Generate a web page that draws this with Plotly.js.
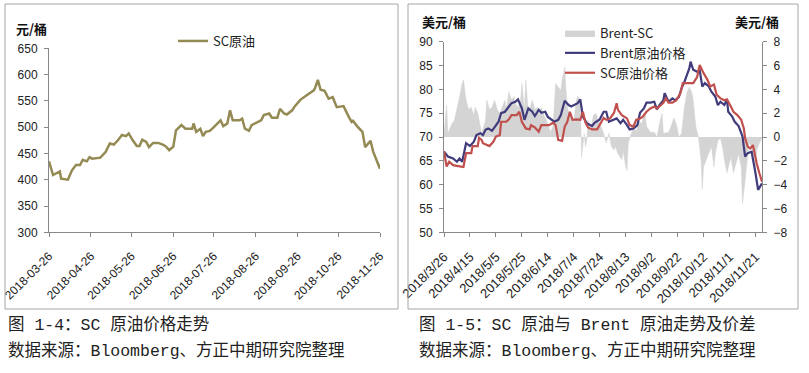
<!DOCTYPE html>
<html>
<head>
<meta charset="utf-8">
<script src="https://cdn.plot.ly/plotly-3.0.1.min.js"></script>
<style>
  html, body { margin: 0; padding: 0; background: #fff; }
  #chart { width: 809px; height: 373px; }
</style>
</head>
<body>
<div id="chart"></div>
<script>
// ---------- Left chart: SC crude (CNY/bbl) ----------
const scCnyDates = ['2018-03-26','2018-03-29','2018-04-03','2018-04-04','2018-04-09','2018-04-12','2018-04-15','2018-04-18','2018-04-20','2018-04-23','2018-04-25','2018-04-27','2018-05-03','2018-05-07','2018-05-10','2018-05-13','2018-05-16','2018-05-19','2018-05-22','2018-05-24','2018-05-27','2018-05-30','2018-06-01','2018-06-03','2018-06-06','2018-06-08','2018-06-11','2018-06-15','2018-06-19','2018-06-21','2018-06-23','2018-06-26','2018-06-28','2018-07-02','2018-07-05','2018-07-10','2018-07-11','2018-07-13','2018-07-16','2018-07-18','2018-07-20','2018-07-23','2018-07-26','2018-07-29','2018-07-31','2018-08-02','2018-08-05','2018-08-07','2018-08-09','2018-08-14','2018-08-16','2018-08-18','2018-08-21','2018-08-23','2018-08-27','2018-08-30','2018-09-01','2018-09-05','2018-09-07','2018-09-11','2018-09-13','2018-09-16','2018-09-18','2018-09-22','2018-09-24','2018-09-28','2018-10-03','2018-10-08','2018-10-09','2018-10-11','2018-10-13','2018-10-16','2018-10-19','2018-10-22','2018-10-25','2018-10-30','2018-11-03','2018-11-05','2018-11-06','2018-11-09','2018-11-13','2018-11-15','2018-11-19','2018-11-21','2018-11-26'];
const scCnyValues = [435,409,416,402,400,418,428,428,438,435,443,440,442,453,469,467,475,485,483,488,475,464,464,476,472,462,470,470,466,462,456,463,494,504,497,497,507,491,497,483,491,493,500,507,513,502,507,532,513,513,516,497,493,504,510,513,523,526,518,518,535,526,524,532,540,552,561,570,575,590,571,569,554,557,538,540,519,510,512,502,491,462,474,453,421];
const leftTickVals = ['2018-03-26','2018-04-26','2018-05-26','2018-06-26','2018-07-26','2018-08-26','2018-09-26','2018-10-26','2018-11-26'];
const leftTickText = ['2018-03-26','2018-04-26','2018-05-26','2018-06-26','2018-07-26','2018-08-26','2018-09-26','2018-10-26','2018-11-26'];

// ---------- Right chart: Brent vs SC (USD/bbl) and spread ----------
const brentDates = ['2018-03-26','2018-03-29','2018-04-02','2018-04-05','2018-04-07','2018-04-09','2018-04-12','2018-04-15','2018-04-18','2018-04-20','2018-04-23','2018-04-25','2018-04-27','2018-04-29','2018-05-02','2018-05-05','2018-05-07','2018-05-09','2018-05-12','2018-05-15','2018-05-17','2018-05-20','2018-05-22','2018-05-25','2018-05-27','2018-05-30','2018-06-02','2018-06-04','2018-06-07','2018-06-09','2018-06-12','2018-06-14','2018-06-17','2018-06-19','2018-06-22','2018-06-24','2018-06-27','2018-06-30','2018-07-02','2018-07-05','2018-07-07','2018-07-09','2018-07-11','2018-07-14','2018-07-18','2018-07-20','2018-07-24','2018-07-27','2018-07-29','2018-07-31','2018-08-04','2018-08-06','2018-08-09','2018-08-11','2018-08-14','2018-08-16','2018-08-19','2018-08-22','2018-08-24','2018-08-27','2018-08-29','2018-09-01','2018-09-04','2018-09-06','2018-09-08','2018-09-11','2018-09-12','2018-09-15','2018-09-18','2018-09-20','2018-09-23','2018-09-25','2018-09-27','2018-09-29','2018-10-01','2018-10-02','2018-10-04','2018-10-07','2018-10-09','2018-10-11','2018-10-13','2018-10-16','2018-10-18','2018-10-21','2018-10-23','2018-10-25','2018-10-28','2018-10-30','2018-10-31','2018-11-03','2018-11-05','2018-11-08','2018-11-10','2018-11-11','2018-11-13','2018-11-15','2018-11-18','2018-11-20','2018-11-21','2018-11-23','2018-11-25','2018-11-26'];
const brentValues = [66.9,65.9,65.5,64.8,65.5,64.8,68.7,68.1,69.0,70.4,70.8,70.4,71.5,71.8,71.3,72.5,73.2,75.0,75.3,76.4,77.1,77.4,77.9,76.0,73.6,76.0,75.3,74.4,75.7,75.1,75.3,74.2,73.6,73.2,73.6,74.6,77.6,76.7,76.4,76.9,77.1,77.9,74.3,72.9,72.3,73.0,73.7,75.3,75.3,73.2,73.7,73.9,72.9,73.6,72.5,71.6,71.8,72.5,75.1,76.0,77.2,77.2,77.4,75.8,76.7,77.7,79.2,77.4,78.1,77.7,78.4,80.2,81.4,83.0,84.4,85.8,84.1,83.7,84.0,80.6,81.3,80.6,79.5,78.5,76.7,77.4,76.7,77.9,75.3,74.3,73.2,72.3,70.8,70.1,65.9,66.6,66.9,64.1,62.4,58.9,60.0,60.3];

const scUsdDates = ['2018-03-26','2018-03-28','2018-03-30','2018-04-02','2018-04-06','2018-04-10','2018-04-12','2018-04-16','2018-04-17','2018-04-21','2018-04-22','2018-04-24','2018-04-25','2018-04-30','2018-05-03','2018-05-05','2018-05-08','2018-05-09','2018-05-13','2018-05-15','2018-05-17','2018-05-21','2018-05-23','2018-05-25','2018-05-28','2018-05-31','2018-06-01','2018-06-04','2018-06-07','2018-06-09','2018-06-12','2018-06-15','2018-06-18','2018-06-20','2018-06-22','2018-06-25','2018-06-27','2018-06-29','2018-07-01','2018-07-03','2018-07-06','2018-07-09','2018-07-11','2018-07-13','2018-07-15','2018-07-18','2018-07-22','2018-07-24','2018-07-27','2018-07-29','2018-08-01','2018-08-04','2018-08-06','2018-08-07','2018-08-10','2018-08-14','2018-08-16','2018-08-19','2018-08-21','2018-08-24','2018-08-26','2018-08-29','2018-09-01','2018-09-04','2018-09-06','2018-09-08','2018-09-11','2018-09-13','2018-09-15','2018-09-18','2018-09-21','2018-09-24','2018-09-26','2018-09-29','2018-10-02','2018-10-04','2018-10-07','2018-10-09','2018-10-12','2018-10-15','2018-10-17','2018-10-20','2018-10-22','2018-10-25','2018-10-28','2018-10-30','2018-11-02','2018-11-04','2018-11-07','2018-11-10','2018-11-12','2018-11-13','2018-11-15','2018-11-17','2018-11-19','2018-11-21','2018-11-22','2018-11-24','2018-11-26'];
const scUsdValues = [67.0,63.8,64.8,64.1,63.9,63.7,66.6,66.6,68.1,68.1,69.8,69.4,68.7,68.1,69.0,70.1,70.4,73.2,73.2,73.7,74.6,74.6,75.3,73.2,71.8,71.6,72.5,72.0,71.1,72.5,72.5,72.5,73.0,72.5,69.4,69.2,72.2,73.2,75.3,73.6,73.7,73.6,75.3,73.0,72.0,71.6,71.6,72.5,74.0,73.6,73.9,75.1,77.1,75.7,74.6,73.9,72.5,72.2,73.6,73.9,74.2,75.3,76.0,76.4,76.0,76.4,77.2,78.1,77.2,77.2,77.7,79.1,81.3,81.3,81.3,81.3,82.6,85.1,83.4,82.0,80.6,81.0,78.9,78.1,77.7,77.9,76.4,75.3,74.6,73.6,71.8,69.7,68.0,67.6,68.3,65.5,64.4,62.4,60.6];

const spreadDates = ['2018-03-26','2018-03-28','2018-03-29','2018-04-01','2018-04-03','2018-04-05','2018-04-07','2018-04-09','2018-04-10','2018-04-12','2018-04-14','2018-04-16','2018-04-18','2018-04-19','2018-04-21','2018-04-23','2018-04-24','2018-04-27','2018-04-28','2018-04-30','2018-05-02','2018-05-04','2018-05-06','2018-05-08','2018-05-10','2018-05-12','2018-05-13','2018-05-15','2018-05-17','2018-05-19','2018-05-20','2018-05-22','2018-05-24','2018-05-25','2018-05-27','2018-05-28','2018-05-30','2018-05-31','2018-06-02','2018-06-04','2018-06-06','2018-06-07','2018-06-09','2018-06-11','2018-06-13','2018-06-16','2018-06-18','2018-06-20','2018-06-22','2018-06-24','2018-06-25','2018-06-27','2018-06-28','2018-06-29','2018-07-01','2018-07-04','2018-07-06','2018-07-07','2018-07-09','2018-07-10','2018-07-12','2018-07-13','2018-07-14','2018-07-15','2018-07-17','2018-07-19','2018-07-21','2018-07-23','2018-07-25','2018-07-27','2018-07-29','2018-07-31','2018-08-02','2018-08-04','2018-08-05','2018-08-07','2018-08-10','2018-08-11','2018-08-13','2018-08-14','2018-08-15','2018-08-17','2018-08-19','2018-08-21','2018-08-23','2018-08-25','2018-08-28','2018-08-29','2018-09-01','2018-09-04','2018-09-06','2018-09-08','2018-09-10','2018-09-11','2018-09-15','2018-09-17','2018-09-19','2018-09-21','2018-09-23','2018-09-25','2018-09-27','2018-09-29','2018-10-01','2018-10-03','2018-10-04','2018-10-06','2018-10-08','2018-10-10','2018-10-11','2018-10-12','2018-10-14','2018-10-16','2018-10-18','2018-10-20','2018-10-21','2018-10-23','2018-10-25','2018-10-27','2018-10-28','2018-10-30','2018-10-31','2018-11-02','2018-11-04','2018-11-06','2018-11-08','2018-11-10','2018-11-11','2018-11-13','2018-11-15','2018-11-16','2018-11-18','2018-11-20','2018-11-21','2018-11-22','2018-11-24','2018-11-25','2018-11-26'];
const spreadValues = [0.3,2.7,0.3,1.1,1.4,2.3,3.4,4.5,4.8,3.1,2.3,2.5,1.8,2.5,2.0,0.9,0.3,1.4,3.1,2.3,2.5,3.1,2.3,2.0,2.5,3.1,2.3,3.8,3.1,3.4,2.8,2.5,3.1,4.5,2.3,4.8,2.0,2.3,3.1,2.3,2.5,1.8,2.5,1.8,1.4,0.4,0.9,4.5,4.2,3.9,4.8,5.9,3.9,2.5,1.8,1.4,3.1,3.4,3.1,-1.7,0.3,-0.8,-0.3,1.4,0.4,1.8,2.0,1.4,0.9,0.3,-0.5,0.3,-0.8,-1.1,-0.8,-1.4,-1.9,-1.2,-2.5,-2.8,-0.5,0.3,0.9,0.4,1.4,1.1,2.0,0.9,0.4,0.4,0,1.1,2.0,0.3,0.4,0.9,1.6,1.1,0,0.3,2.3,3.7,4.2,3.7,3.1,0.9,0,-1.9,-4.4,-2.5,-1.9,-1.4,-0.8,-2.5,-1.4,-0.3,-0.1,-1.1,-1.9,-3.0,-2.5,-1.7,-3.0,-2.2,-1.4,-2.5,-5.6,-3.6,-1.1,-0.5,-0.8,-1.7,-2.5,-1.1,-0.5,-0.3,-0.1];

const rightTickVals = ['2018-03-26','2018-04-15','2018-05-05','2018-05-25','2018-06-14','2018-07-04','2018-07-24','2018-08-13','2018-09-02','2018-09-22','2018-10-12','2018-11-01','2018-11-21'];
const rightTickText = ['2018/3/26','2018/4/15','2018/5/5','2018/5/25','2018/6/14','2018/7/4','2018/7/24','2018/8/13','2018/9/2','2018/9/22','2018/10/12','2018/11/1','2018/11/21'];

// ---------- Styling ----------
const W = 809, H = 373;
const px = v => v / W;
const py = v => 1 - v / H;
const tickFont = {family: 'Liberation Sans Narrow, Liberation Sans, Arial, sans-serif', size: 12, color: '#222'};
const xTickFontLeft = {family: 'Liberation Sans Narrow, Liberation Sans, Arial, sans-serif', size: 12, color: '#222'};
const xTickFontRight = {family: 'Liberation Sans Narrow, Liberation Sans, Arial, sans-serif', size: 13, color: '#222'};
const axisCommon = {
  showgrid: false, zeroline: false, showline: true, linecolor: '#888', linewidth: 1,
  ticks: 'outside', ticklen: 4, tickcolor: '#888', tickfont: tickFont, fixedrange: true
};
const legendFont = {family: 'Liberation Sans Narrow, Noto Sans CJK SC, sans-serif', size: 13, color: '#222'};
const cjkBold = {family: 'Noto Sans CJK SC, sans-serif', size: 13, color: '#111', weight: 'bold'};
const captionFont = {family: 'Liberation Mono, Noto Sans CJK SC, monospace', size: 16.5, color: '#222'};

const traces = [
  {x: scCnyDates, y: scCnyValues, type: 'scatter', mode: 'lines', name: 'SC原油',
   line: {color: '#948A54', width: 2.5}, xaxis: 'x', yaxis: 'y', legend: 'legend'},
  {x: spreadDates, y: spreadValues, type: 'scatter', mode: 'lines', name: 'Brent-SC',
   fill: 'tozeroy', fillcolor: '#D4D4D4', line: {color: '#D4D4D4', width: 0.5},
   xaxis: 'x2', yaxis: 'y2', legend: 'legend2'},
  {x: brentDates, y: brentValues, type: 'scatter', mode: 'lines', name: 'Brent原油价格',
   line: {color: '#403C7C', width: 2.2}, xaxis: 'x2', yaxis: 'y3', legend: 'legend2'},
  {x: scUsdDates, y: scUsdValues, type: 'scatter', mode: 'lines', name: 'SC原油价格',
   line: {color: '#C0504D', width: 2.2}, xaxis: 'x2', yaxis: 'y3', legend: 'legend2'}
];

const layout = {
  width: W, height: H,
  margin: {l: 0, r: 0, t: 0, b: 0},
  paper_bgcolor: '#fff', plot_bgcolor: 'rgba(0,0,0,0)',
  showlegend: true,
  xaxis: Object.assign({}, axisCommon, {
    type: 'date', domain: [px(49), px(380)], range: ['2018-03-26', '2018-11-26'],
    tickmode: 'array', tickvals: leftTickVals, ticktext: leftTickText, tickangle: -45, anchor: 'y',
    tickfont: xTickFontLeft, ticklabelstandoff: 7, ticklabeloverflow: 'allow'
  }),
  yaxis: Object.assign({}, axisCommon, {
    domain: [py(232.3), py(48.3)], range: [300, 650], dtick: 50, anchor: 'x', ticklabelstandoff: 4
  }),
  xaxis2: Object.assign({}, axisCommon, {
    type: 'date', domain: [px(444), px(762)], range: ['2018-03-26', '2018-11-26'],
    tickmode: 'array', tickvals: rightTickVals, ticktext: rightTickText, tickangle: -45, anchor: 'y2',
    tickfont: xTickFontRight, ticklabelstandoff: 7, ticklabeloverflow: 'allow'
  }),
  // spread axis (right) is the base axis so that its area sits behind the price lines
  yaxis2: Object.assign({}, axisCommon, {
    domain: [py(232.3), py(41.7)], side: 'right', range: [-8, 8], dtick: 2, anchor: 'x2', ticklabelstandoff: 4
  }),
  yaxis3: Object.assign({}, axisCommon, {
    overlaying: 'y2', side: 'left', anchor: 'x2', range: [50, 90], dtick: 5, ticklabelstandoff: 4
  }),
  legend: {x: px(173), y: py(26), xanchor: 'left', yanchor: 'top', bgcolor: 'rgba(0,0,0,0)',
           font: legendFont, itemwidth: 30, tracegroupgap: 0},
  legend2: {x: px(560), y: py(18), xanchor: 'left', yanchor: 'top', bgcolor: 'rgba(0,0,0,0)',
            font: legendFont, itemwidth: 30, tracegroupgap: 0},
  shapes: [
    {type: 'rect', xref: 'paper', yref: 'paper', x0: px(5), x1: px(398), y0: py(309), y1: py(4),
     line: {color: '#A6A6A6', width: 1}},
    {type: 'rect', xref: 'paper', yref: 'paper', x0: px(408), x1: px(798), y0: py(309), y1: py(4),
     line: {color: '#A6A6A6', width: 1}}
  ],
  annotations: [
    {text: '元/桶', xref: 'paper', yref: 'paper', x: px(14), y: py(28), xanchor: 'left', yanchor: 'middle', showarrow: false, font: cjkBold},
    {text: '美元/桶', xref: 'paper', yref: 'paper', x: px(420), y: py(21), xanchor: 'left', yanchor: 'middle', showarrow: false, font: cjkBold},
    {text: '美元/桶', xref: 'paper', yref: 'paper', x: px(781), y: py(21), xanchor: 'right', yanchor: 'middle', showarrow: false, font: cjkBold},
    {text: '图 1-4：SC 原油价格走势', xref: 'paper', yref: 'paper', x: px(6), y: py(325), xanchor: 'left', yanchor: 'middle', showarrow: false, font: captionFont},
    {text: '数据来源：Bloomberg、方正中期研究院整理', xref: 'paper', yref: 'paper', x: px(6), y: py(351), xanchor: 'left', yanchor: 'middle', showarrow: false, font: captionFont},
    {text: '图 1-5：SC 原油与 Brent 原油走势及价差', xref: 'paper', yref: 'paper', x: px(417), y: py(325), xanchor: 'left', yanchor: 'middle', showarrow: false, font: captionFont},
    {text: '数据来源：Bloomberg、方正中期研究院整理', xref: 'paper', yref: 'paper', x: px(417), y: py(351), xanchor: 'left', yanchor: 'middle', showarrow: false, font: captionFont}
  ]
};

Plotly.newPlot('chart', traces, layout, {displayModeBar: false, staticPlot: true});
</script>
</body>
</html>
